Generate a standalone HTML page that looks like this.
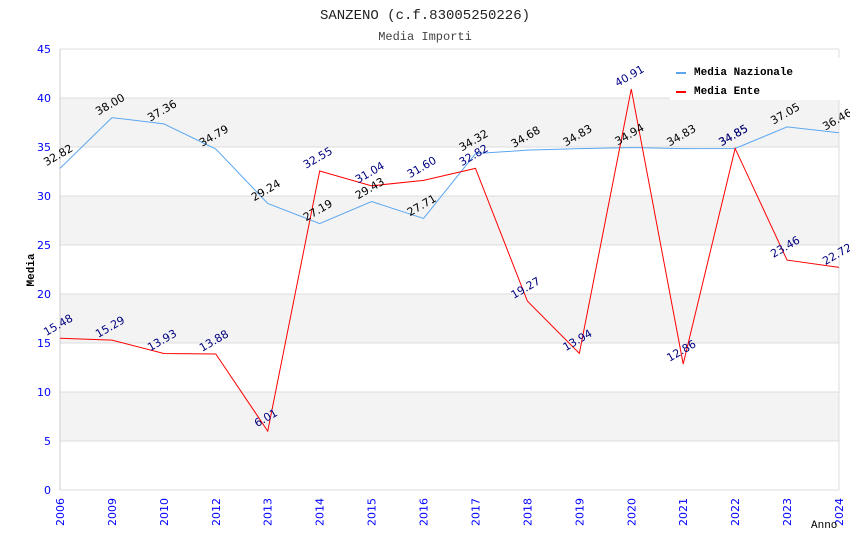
<!DOCTYPE html>
<html><head><meta charset="utf-8"><style>
body{margin:0;background:#fff}
svg{display:block}
</style></head><body>
<svg id="chart" width="850" height="550" xmlns="http://www.w3.org/2000/svg" font-family="'DejaVu Sans', sans-serif">
<rect width="850" height="550" fill="#fff"/>
<text x="425" y="19" text-anchor="middle" font-family="'Liberation Mono', monospace" font-size="14" fill="#222">SANZENO (c.f.83005250226)</text>
<text x="425" y="40" text-anchor="middle" font-family="'Liberation Mono', monospace" font-size="12" fill="#444">Media Importi</text>
<g id="bands"></g><g id="grid"></g><g id="axes"></g><g id="series"></g><g id="labels"></g>
<text transform="translate(34,270) rotate(-90)" text-anchor="middle" font-family="'Liberation Mono', monospace" font-weight="bold" font-size="11" fill="#000">Media</text>
<text x="811" y="528" font-family="'Liberation Mono', monospace" font-size="11" fill="#000">Anno</text>
<g>
<rect x="670" y="58" width="170" height="42" fill="#fff"/>
<rect x="676" y="72" width="10" height="2" fill="#5aa7f0"/>
<text x="694" y="75" font-family="'Liberation Mono', monospace" font-weight="bold" font-size="11">Media Nazionale</text>
<rect x="676" y="91" width="10" height="2" fill="#f00"/>
<text x="694" y="94" font-family="'Liberation Mono', monospace" font-weight="bold" font-size="11">Media Ente</text>
</g>
</svg>
<script>
const years=["2006","2009","2010","2012","2013","2014","2015","2016","2017","2018","2019","2020","2021","2022","2023","2024"];
const nazionale=[32.82,38.00,37.36,34.79,29.24,27.19,29.43,27.71,34.32,34.68,34.83,34.94,34.83,34.85,37.05,36.46];
const ente=[15.48,15.29,13.93,13.88,6.01,32.55,31.04,31.60,32.82,19.27,13.94,40.91,12.86,34.85,23.46,22.72];
const yTicks=[0,5,10,15,20,25,30,35,40,45];
const NS="http://www.w3.org/2000/svg";
const X0=60,X1=839,Y0=490,Y1=49,YMAX=45;
function xs(i){return X0+(X1-X0)*i/(years.length-1);}
function ys(v){return Y0-(Y0-Y1)*v/YMAX;}
function mk(tag,attrs,parent,text){const e=document.createElementNS(NS,tag);for(const k in attrs)e.setAttribute(k,attrs[k]);if(text!==undefined)e.textContent=text;document.getElementById(parent).appendChild(e);return e;}
for(let i=0;i<yTicks.length-1;i++){
 if(i%2===1){const r=mk('rect',{x:X0,y:ys(yTicks[i+1]),width:X1-X0,height:ys(yTicks[i])-ys(yTicks[i+1]),fill:'#f3f3f3'},'bands');
 
 }
}
yTicks.forEach(t=>{
 const l=mk('line',{x1:X0,x2:X1,y1:ys(t),y2:ys(t),stroke:'#ddd','stroke-width':1},'grid');
 
 
 const tx=mk('text',{x:X0-9,y:ys(t)+4,'text-anchor':'end','font-size':11,fill:'#00f'},'axes',String(t));
 
 
});
mk('line',{x1:X0,x2:X0,y1:Y1,y2:Y0,stroke:'#ccc'},'axes');
mk('line',{x1:X1,x2:X1,y1:Y1,y2:Y0,stroke:'#ddd'},'axes');
years.forEach((y,i)=>{
 const t=mk('text',{transform:`translate(${xs(i)+4},${Y0+8}) rotate(-90)`,'text-anchor':'end','font-size':11,fill:'#00f'},'axes',y);
 
 
});
function series(vals,color,lc,name){
 const p=mk('polyline',{points:vals.map((v,i)=>xs(i)+','+ys(v)).join(' '),fill:'none',stroke:color,'stroke-width':1},'series');
 
 
 vals.forEach((v,i)=>{
  const t=mk('text',{transform:`translate(${xs(i)},${ys(v)-10}) rotate(-30)`,'text-anchor':'middle','font-size':11,fill:lc},'labels',v.toFixed(2));
  
  
 });
}
series(nazionale,'#5aa7f0','#000','nazionale');
series(ente,'#f00','#000080','ente');
</script>
</body></html>
